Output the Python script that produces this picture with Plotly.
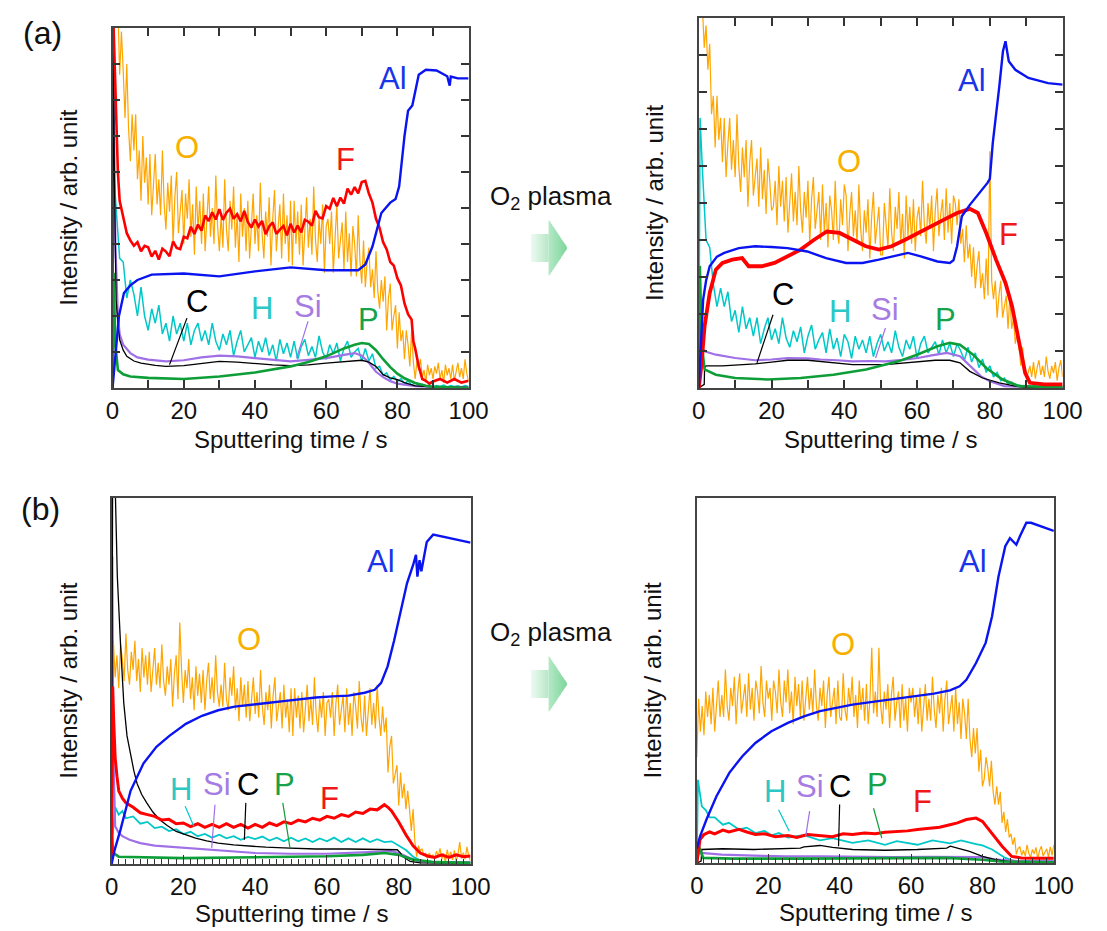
import plotly.graph_objects as go

# The page body has an 8 px default margin, so the figure is drawn 8 px smaller and every
# position below is given in window pixels and converted with PX / PY.
OFF = 8
WIN_W, WIN_H = 1107, 931
FW, FH = WIN_W - OFF, WIN_H - OFF


def PX(x):
    return (x - OFF) / FW


def PY(y):
    return 1 - (y - OFF) / FH


# ---------------- data (sputtering time in s, intensity in arb. units 0-10) ----------------
T_O = [k * 0.5 for k in range(201)]          # O signal sampled every 0.5 s
T_H = [0, 0.35] + list(range(1, 101))        # H signal in (a) sampled every 1 s

# ===== (a) before O2 plasma =====
A1_O = [11.0,
        11.9, 10.3, 10.6, 8.7, 9.9, 8.8, 7.5, 9.0, 7.2, 6.3, 7.6, 6.6, 7.6, 5.8, 6.6, 5.2, 7.0, 5.7, 6.4, 5.1,
        6.5, 4.8, 5.8, 6.5, 5.1, 5.8, 4.8, 6.6, 5.1, 4.4, 5.7, 4.9, 5.9, 4.0, 5.3, 6.0, 4.3, 5.0, 5.5, 4.0,
        5.4, 4.7, 5.8, 4.2, 5.1, 3.7, 5.6, 4.4, 5.2, 4.0, 5.4, 3.8, 4.9, 5.6, 4.2, 5.0, 4.0, 5.9, 4.5, 3.8,
        4.8, 3.9, 5.8, 4.4, 3.8, 5.2, 4.4, 5.6, 3.9, 4.8, 3.5, 5.4, 4.2, 5.0, 3.8, 5.2, 3.6, 4.7, 5.4, 4.0,
        4.8, 3.8, 5.7, 4.3, 3.6, 4.9, 4.2, 5.3, 3.4, 4.7, 5.5, 3.8, 4.5, 5.1, 3.6, 5.4, 4.0, 4.8, 3.5, 5.2,
        3.4, 5.2, 4.0, 4.9, 3.7, 5.1, 3.4, 4.5, 5.3, 3.9, 4.7, 3.7, 5.6, 4.1, 3.5, 4.7, 4.0, 5.1, 3.2, 4.5,
        4.7, 4.0, 4.9, 3.2, 4.4, 5.1, 3.6, 4.1, 4.6, 3.3, 4.9, 3.5, 4.3, 3.1, 4.5, 4.0, 3.1, 4.8, 3.5, 2.9,
        4.1, 2.8, 3.5, 3.9, 2.8, 3.3, 2.5, 3.8, 2.7, 2.2, 3.0, 2.4, 3.1, 1.6, 2.5, 2.9, 1.6, 2.0, 2.3, 1.1,
        2.1, 1.3, 1.6, 0.8, 1.6, 1.2, 0.6, 1.6, 0.7, 0.25, 0.75, 0.5, 0.8, 0.3, 0.5, 0.15, 0.65, 0.35, 0.55, 0.25,
        0.6, 0.4, 0.7, 0.25, 0.5, 0.15, 0.65, 0.35, 0.55, 0.25, 0.65, 0.2, 0.5, 0.7, 0.3, 0.55, 0.25, 0.8, 0.4, 0.2]
A1_H = [0, 6.0,
        5.0, 3.6, 3.5, 2.5, 3.0, 2.6, 2.0, 2.8, 2.0, 1.6,
        2.2, 1.8, 2.3, 1.5, 1.8, 1.3, 2.0, 1.5, 1.8, 1.3,
        1.8, 1.2, 1.6, 1.8, 1.3, 1.6, 1.2, 1.8, 1.3, 1.05,
        1.5, 1.2, 1.6, 0.9, 1.3, 1.6, 1.0, 1.2, 1.4, 0.85,
        1.3, 1.0, 1.4, 0.9, 1.2, 0.75, 1.35, 0.95, 1.25, 0.85,
        1.3, 0.8, 1.15, 1.35, 0.9, 1.15, 0.85, 1.45, 1.0, 0.8,
        1.2, 0.95, 1.25, 0.75, 1.1, 1.3, 0.85, 1.0, 1.1, 0.75,
        1.1, 0.75, 0.95, 0.55, 0.6, 0.35, 0.42, 0.22, 0.32, 0.18,
        0.26, 0.12, 0.2, 0.08, 0.14, 0.05, 0.1, 0.04, 0.08, 0.03,
        0.07, 0.04, 0.08, 0.03, 0.07, 0.04, 0.06, 0.03, 0.07, 0.04]
A1_F = [(0, 11), (0.5, 9.5), (1, 7.8), (1.5, 6.0), (2, 5.2), (3, 4.7), (4, 4.3), (5, 4.1), (6, 3.95),
        (7, 4.05), (8, 3.8), (9, 3.95), (10, 3.91), (11, 3.65), (12, 3.81), (13, 3.57), (14, 3.87),
        (15, 3.79), (16, 3.66), (17, 4.07), (18, 3.89), (19, 3.86), (20, 4.2), (21, 4.16), (22, 4.48),
        (23, 4.28), (24, 4.54), (25, 4.37), (26, 4.79), (27, 4.64), (28, 4.88), (29, 4.68), (30, 4.97),
        (31, 4.67), (32, 4.87), (33, 4.98), (34, 4.7), (35, 4.83), (36, 4.63), (37, 4.92), (38, 4.61),
        (39, 4.46), (40, 4.68), (41, 4.49), (42, 4.64), (43, 4.27), (44, 4.49), (45, 4.6), (46, 4.28),
        (47, 4.4), (48, 4.5), (49, 4.24), (50, 4.56), (51, 4.32), (52, 4.51), (53, 4.32), (54, 4.67),
        (55, 4.62), (56, 4.51), (57, 4.92), (58, 4.74), (59, 4.71), (60, 5.05), (61, 4.98), (62, 5.28),
        (63, 5.05), (64, 5.29), (65, 5.12), (66, 5.54), (67, 5.37), (68, 5.58), (69, 5.41), (70, 5.72),
        (71, 5.75), (72, 5.4), (73, 5.15), (74, 4.7), (75, 4.45), (76, 4.05), (77, 3.85), (78, 3.5),
        (79, 3.4), (80, 3.05), (81, 2.85), (82, 2.35), (83, 2.05), (84, 1.9), (84.5, 1.3), (85, 1.1),
        (86, 0.6), (87, 0.25), (88, 0.2), (89, 0.12), (90, 0.18), (92, 0.25), (94, 0.15), (96, 0.25),
        (98, 0.15), (100, 0.2)]
A1_SI = [(0, 0), (0.3, 8.3), (0.8, 4.0), (1.5, 2.0), (2, 1.5), (3, 1.2), (5, 0.97), (7, 0.85),
         (10, 0.79), (15, 0.74), (20, 0.77), (25, 0.85), (30, 0.9), (35, 0.88), (40, 0.83),
         (45, 0.78), (50, 0.74), (55, 0.78), (60, 0.83), (65, 0.92), (68, 0.97), (70, 0.9),
         (72, 0.7), (74, 0.45), (76, 0.3), (78, 0.19), (80, 0.12), (85, 0.05), (90, 0.03), (100, 0.02)]
A1_C = [(0, 0), (0.2, 10.8), (0.5, 6.0), (1, 2.45), (1.5, 1.8), (2, 1.34), (3, 1.05), (4, 0.88),
        (6, 0.75), (8, 0.69), (12, 0.63), (15, 0.6), (20, 0.62), (25, 0.68), (30, 0.74), (35, 0.72),
        (40, 0.67), (45, 0.64), (50, 0.62), (55, 0.64), (60, 0.69), (65, 0.74), (70, 0.77), (72, 0.72),
        (74, 0.6), (76, 0.37), (78, 0.28), (80, 0.23), (82, 0.15), (85, 0.06), (90, 0.03), (100, 0.02)]
A1_P = [(0, 0), (0.3, 3.2), (0.8, 1.2), (1.5, 0.5), (3, 0.38), (5, 0.32), (10, 0.28), (20, 0.25),
        (30, 0.32), (40, 0.43), (50, 0.6), (55, 0.72), (60, 0.88), (65, 1.1), (68, 1.2), (70, 1.25),
        (72, 1.22), (74, 1.05), (76, 0.8), (78, 0.58), (80, 0.4), (82, 0.27), (85, 0.14), (88, 0.06),
        (90, 0.03), (100, 0.0)]
A1_AL = [(0, 0), (1, 1.2), (1.8, 2.0), (3.2, 2.64), (5, 2.85), (7, 3.0), (11, 3.15), (20, 3.18),
         (30, 3.1), (40, 3.24), (50, 3.35), (60, 3.27), (69, 3.27), (71, 3.43), (73, 3.93),
         (75.5, 4.86), (78, 5.15), (79.5, 5.25), (80.5, 5.6), (82, 7.0), (83, 7.7), (84.2, 7.85),
         (86, 8.7), (88, 8.84), (91, 8.82), (94, 8.66), (94.7, 8.4), (95, 8.65), (97, 8.6), (100, 8.6)]

# ===== (a) after O2 plasma =====
A2_O = [11.0,
        12.0, 10.3, 9.2, 9.8, 8.6, 9.3, 7.4, 7.9, 6.5, 7.9, 6.7, 7.3, 6.1, 7.3, 5.7, 6.6, 7.3, 5.9, 6.7, 5.7,
        7.4, 6.0, 5.3, 6.5, 5.7, 6.7, 4.9, 6.1, 6.7, 5.2, 5.7, 6.2, 4.9, 6.5, 5.1, 5.9, 4.7, 6.2, 5.6, 4.8,
        4.9, 5.6, 4.4, 6.0, 4.9, 5.6, 4.5, 5.7, 4.2, 5.2, 5.8, 4.5, 5.3, 4.4, 6.0, 4.8, 4.2, 5.3, 4.6, 5.6,
        3.9, 5.1, 5.7, 4.3, 4.8, 5.3, 4.0, 5.5, 4.2, 5.0, 3.8, 5.2, 4.8, 4.0, 5.6, 4.3, 3.9, 5.1, 4.4, 5.5,
        5.2, 3.7, 4.7, 5.3, 4.1, 4.8, 3.9, 5.5, 4.3, 3.7, 4.8, 4.2, 5.1, 3.5, 4.6, 5.3, 3.9, 4.4, 4.9, 3.6,
        3.6, 5.0, 4.5, 3.8, 5.4, 4.2, 3.7, 4.9, 4.3, 5.3, 3.9, 4.7, 3.5, 5.2, 4.1, 4.9, 3.9, 5.1, 3.7, 4.6,
        4.9, 4.1, 5.6, 4.4, 3.9, 5.0, 4.3, 5.2, 3.7, 4.8, 5.4, 4.1, 4.7, 5.1, 4.0, 5.4, 4.2, 5.0, 3.9, 5.2,
        5.0, 4.4, 5.1, 3.9, 4.3, 3.4, 4.4, 3.5, 3.9, 3.0, 3.8, 2.7, 3.3, 3.7, 2.7, 3.1, 2.4, 3.5, 2.5, 6.4,
        2.9, 2.4, 2.9, 1.9, 2.5, 2.9, 1.9, 2.2, 2.5, 1.6, 2.5, 1.6, 1.9, 1.2, 1.5, 1.1, 0.6, 1.1, 0.55, 0.3,
        0.4, 0.6, 0.3, 0.7, 0.25, 0.55, 0.75, 0.35, 0.6, 0.3, 0.85, 0.45, 0.25, 0.6, 0.4, 0.7, 0.2, 0.55, 0.75, 0.3]
A2_H = [0, 7.3,
        5.9, 4.0, 3.8, 2.8, 2.2, 2.7, 2.2, 2.6, 1.8, 2.1,
        1.5, 2.2, 1.6, 1.9, 1.4, 1.9, 1.2, 1.6, 1.9, 1.3,
        1.6, 1.2, 1.9, 1.35, 1.1, 1.55, 1.25, 1.65, 0.95, 1.4,
        1.7, 1.05, 1.3, 1.5, 0.95, 1.6, 1.05, 1.35, 0.85, 1.45,
        1.25, 0.8, 1.4, 1.05, 1.3, 0.95, 1.4, 0.85, 1.2, 1.45,
        1.0, 1.25, 0.95, 1.55, 1.1, 0.85, 1.3, 1.05, 1.4, 0.8,
        1.2, 1.4, 0.95, 1.1, 1.25, 0.9, 1.3, 0.95, 1.2, 0.85,
        1.2, 1.0, 0.75, 1.1, 0.7, 0.95, 0.55, 0.78, 0.42, 0.6,
        0.3, 0.42, 0.2, 0.27, 0.1, 0.16, 0.06, 0.08, 0.04, 0.07,
        0.03, 0.06, 0.04, 0.07, 0.03, 0.06, 0.04, 0.07, 0.03, 0.06]
A2_F = [(0, 0), (0.7, 0.6), (1.6, 1.67), (3, 2.57), (4.7, 3.2), (6.5, 3.38), (9.2, 3.47),
        (11.9, 3.51), (13.7, 3.29), (15.5, 3.3), (17.3, 3.29), (20.8, 3.38), (24.4, 3.56),
        (28, 3.74), (31.6, 4.0), (35.2, 4.23), (38.7, 4.19), (42.3, 4.0), (45.9, 3.83),
        (49.5, 3.74), (53, 3.83), (56.6, 4.0), (60.2, 4.19), (63.8, 4.37), (67.4, 4.55), (71, 4.73),
        (74.5, 4.84), (76.7, 4.73), (79, 4.19), (81.7, 3.47), (84.3, 2.84), (86.1, 2.21),
        (87.9, 1.31), (89.7, 0.41), (91, 0.14), (95, 0.1), (100, 0.1)]
A2_SI = [(0, 0), (0.3, 1.5), (0.8, 1.2), (1.2, 1.04), (2, 0.98), (4.7, 0.9), (10, 0.81),
         (15.5, 0.75), (20, 0.77), (24.4, 0.81), (30, 0.8), (33.4, 0.77), (38, 0.75), (42.3, 0.72),
         (47, 0.73), (51.3, 0.72), (56, 0.76), (60.2, 0.81), (64, 0.88), (68.2, 0.95), (71.8, 0.86),
         (73.5, 0.7), (75.4, 0.5), (77.5, 0.32), (80, 0.18), (84, 0.05), (90, 0.03), (100, 0.02)]
A2_C = [(0, 0), (1.5, 0.1), (1.6, 0.55), (2, 0.6), (6.5, 0.6), (15.5, 0.65), (20, 0.7),
        (24.4, 0.75), (30, 0.75), (33.4, 0.72), (38, 0.67), (42.3, 0.63), (51.3, 0.63), (56, 0.67),
        (60.2, 0.72), (65, 0.75), (69, 0.75), (71.8, 0.68), (74.5, 0.45), (78, 0.27), (82.6, 0.14),
        (87, 0.05), (90, 0.02), (100, 0.02)]
A2_P = [(0, 0), (0.3, 3.3), (0.8, 1.2), (1.6, 0.5), (4.7, 0.36), (10, 0.27), (19, 0.23), (28, 0.27),
        (37, 0.36), (46, 0.5), (54.8, 0.72), (60, 0.9), (65.6, 1.13), (69, 1.22), (71.8, 1.17),
        (75.4, 0.9), (79, 0.54), (83.5, 0.23), (88, 0.05), (100, 0.02)]
A2_AL = [(0, 0), (0.5, 1.0), (1.2, 2.39), (2, 2.9), (3, 3.29), (5, 3.55), (7, 3.65), (11, 3.78),
         (15.5, 3.83), (20, 3.81), (24.4, 3.78), (29.8, 3.69), (35, 3.51), (40.5, 3.38), (45, 3.38),
         (49.5, 3.47), (54, 3.58), (57.5, 3.65), (61, 3.56), (65.6, 3.42), (69, 3.38), (70, 3.45),
         (71, 3.83), (72.3, 4.64), (74.5, 4.95), (77.2, 5.27), (79.4, 5.55), (80, 5.65), (80.8, 6.62),
         (82.6, 8.15), (83.6, 9.1), (84.3, 9.37), (85.2, 8.83), (87, 8.6), (90.6, 8.38), (96, 8.24),
         (100, 8.2)]

# ===== (b) before O2 plasma =====
B1_O = [5.4,
        6.1, 5.1, 5.7, 4.8, 6.0, 5.6, 5.0, 6.3, 5.3, 4.9, 5.8, 5.3, 6.1, 5.0, 5.6, 4.7, 5.9, 5.1, 5.7, 4.9,
        5.8, 4.7, 5.4, 5.9, 4.9, 5.5, 4.8, 6.0, 5.0, 4.6, 5.4, 4.9, 5.6, 4.3, 5.2, 5.7, 4.5, 6.6, 5.3, 4.4,
        5.3, 4.8, 5.6, 4.5, 5.1, 4.2, 5.4, 4.6, 5.2, 4.4, 5.3, 4.2, 5.0, 5.5, 4.5, 5.1, 4.4, 5.7, 4.7, 4.3,
        4.9, 4.3, 5.5, 4.5, 4.2, 5.1, 4.6, 5.4, 4.2, 4.8, 3.9, 5.1, 4.3, 4.9, 4.0, 5.0, 3.9, 4.6, 5.1, 4.1,
        4.7, 4.0, 5.3, 4.3, 3.8, 4.7, 4.2, 4.9, 3.7, 4.6, 5.1, 3.9, 4.4, 4.7, 3.7, 4.9, 4.0, 4.5, 3.6, 4.8,
        3.5, 4.8, 4.0, 4.6, 3.7, 4.7, 3.6, 4.3, 4.9, 3.9, 4.5, 3.8, 5.1, 4.1, 3.6, 4.5, 4.0, 4.7, 3.5, 4.4,
        4.5, 4.0, 4.7, 3.5, 4.4, 4.9, 3.8, 4.2, 4.6, 3.6, 4.8, 3.8, 4.4, 3.5, 4.7, 4.3, 3.7, 5.0, 4.0, 3.6,
        4.6, 3.5, 4.2, 4.8, 3.8, 4.4, 3.7, 4.9, 4.0, 3.5, 4.3, 3.6, 4.0, 2.5, 3.2, 3.5, 2.2, 2.5, 2.7, 1.6,
        2.5, 1.8, 2.2, 1.5, 2.0, 1.5, 0.9, 1.5, 0.6, 0.2, 0.5, 0.36, 0.42, 0.24, 0.29, 0.15, 0.3, 0.19, 0.25, 0.13,
        0.35, 0.21, 0.43, 0.13, 0.29, 0.05, 0.39, 0.17, 0.33, 0.11, 0.37, 0.07, 0.27, 0.6, 0.15, 0.31, 0.13, 0.47, 0.21, 0.09]
B1_F = [(0, 0), (0.3, 4.85), (0.6, 3.9), (1, 2.9), (1.5, 2.4), (2, 2.0), (3, 1.8), (4, 1.67),
        (6, 1.55), (8, 1.4), (10, 1.35), (12, 1.3), (14, 1.2), (16, 1.22), (18, 1.1), (20, 1.12),
        (22, 1.02), (24, 1.1), (26, 1.0), (28, 1.08), (30, 1.0), (32, 1.1), (34, 1.0), (36, 1.08),
        (38, 0.98), (40, 1.08), (42, 1.0), (44, 1.12), (46, 1.05), (48, 1.15), (50, 1.1), (52, 1.2),
        (54, 1.15), (56, 1.25), (58, 1.2), (60, 1.3), (62, 1.25), (64, 1.35), (66, 1.3), (68, 1.42),
        (70, 1.38), (72, 1.5), (74, 1.48), (76, 1.62), (77, 1.55), (78, 1.45), (80, 1.15), (82, 0.8),
        (84, 0.5), (86, 0.3), (88, 0.22), (90, 0.18), (92, 0.25), (94, 0.18), (96, 0.25), (98, 0.2),
        (100, 0.22)]
B1_H = [(0, 0), (0.3, 0.75), (1, 1.55), (2, 1.35), (3, 1.45), (4, 1.25), (6, 1.3), (8, 1.1),
        (10, 1.15), (12, 0.98), (14, 1.02), (16, 0.9), (18, 0.95), (20, 0.82), (22, 0.88), (24, 0.76),
        (26, 0.82), (28, 0.72), (30, 0.8), (32, 0.7), (34, 0.76), (36, 0.66), (38, 0.74), (40, 0.68),
        (42, 0.75), (44, 0.64), (46, 0.72), (48, 0.62), (50, 0.72), (52, 0.62), (54, 0.7), (56, 0.6),
        (58, 0.7), (60, 0.62), (62, 0.72), (64, 0.6), (66, 0.7), (68, 0.6), (70, 0.7), (72, 0.6),
        (74, 0.68), (76, 0.6), (78, 0.62), (80, 0.5), (82, 0.38), (84, 0.2), (86, 0.1), (90, 0.05),
        (100, 0.05)]
B1_SI = [(0, 0), (0.2, 8.4), (0.5, 3.0), (1, 1.03), (2, 0.85), (3, 0.76), (5, 0.66), (8, 0.57),
         (12, 0.5), (15, 0.48), (20, 0.44), (30, 0.37), (40, 0.3), (50, 0.28), (60, 0.28), (70, 0.32),
         (75, 0.34), (78, 0.35), (80, 0.3), (82, 0.21), (84, 0.12), (86, 0.07), (90, 0.05), (100, 0.05)]
B1_C = [(0, 0), (0.3, 10.8), (0.9, 10.8), (1.6, 7.86), (2.5, 6.0), (3.4, 4.4), (4.3, 3.5),
        (5.3, 2.94), (6.2, 2.55), (7.1, 2.2), (8.4, 1.9), (9.8, 1.67), (11.5, 1.42), (13.4, 1.21),
        (15.5, 1.05), (18, 0.89), (20.5, 0.8), (23.4, 0.71), (26.5, 0.63), (29.7, 0.57), (34, 0.52),
        (38.8, 0.48), (43, 0.46), (47.9, 0.44), (56.9, 0.41), (66, 0.41), (75.1, 0.41), (79.6, 0.39),
        (80.5, 0.3), (81, 0.21), (83.2, 0.07), (86, 0.03), (100, 0.02)]
B1_P = [(0, 0), (0.1, 0.75), (0.5, 0.3), (2, 0.2), (20, 0.16), (40, 0.19), (60, 0.21), (70, 0.25),
        (76, 0.3), (80, 0.25), (84, 0.12), (90, 0.05), (100, 0.03)]
B1_AL = [(0, 0), (0.9, 0.4), (2.5, 0.94), (5.3, 2.0), (8.9, 2.75), (12.5, 3.2), (16.1, 3.5),
         (20.7, 3.83), (25.2, 4.05), (29.7, 4.2), (34.3, 4.3), (38.8, 4.34), (43.3, 4.4), (47.9, 4.45),
         (52.4, 4.5), (56.9, 4.55), (61.5, 4.58), (66, 4.6), (70.5, 4.68), (73.3, 4.76), (75.1, 4.95),
         (76.9, 5.4), (78.7, 6.1), (80.5, 6.9), (82.3, 7.67), (84.1, 8.2), (84.8, 8.45), (85.2, 7.85),
         (85.8, 8.3), (86.3, 8.0), (87.8, 8.8), (89.6, 9.0), (93.2, 8.93), (97.7, 8.83), (100, 8.78)]

# ===== (b) after O2 plasma =====
B2_O = [2.9,
        4.5, 3.6, 4.3, 3.5, 4.7, 4.0, 4.6, 3.8, 4.8, 3.6, 4.4, 5.0, 4.0, 4.6, 4.0, 5.3, 4.3, 3.9, 4.8, 4.3,
        5.1, 3.8, 4.7, 5.2, 4.1, 4.6, 4.9, 4.0, 5.2, 4.2, 4.8, 3.9, 5.0, 4.7, 4.1, 5.4, 4.4, 4.0, 5.0, 4.5,
        4.8, 3.9, 5.0, 4.7, 4.1, 5.3, 4.4, 4.0, 5.0, 4.4, 5.3, 4.1, 4.7, 3.8, 5.1, 4.3, 4.9, 4.0, 5.0, 3.9,
        4.6, 5.1, 4.2, 4.8, 4.1, 5.3, 4.3, 3.9, 4.8, 4.3, 5.0, 3.7, 4.6, 5.1, 4.0, 4.4, 4.8, 3.8, 5.0, 4.0,
        3.9, 5.2, 4.2, 3.9, 4.8, 4.3, 5.1, 4.0, 4.6, 3.7, 5.0, 4.2, 4.8, 3.9, 4.9, 3.8, 4.5, 5.9, 4.1, 4.7,
        4.0, 5.9, 4.3, 3.8, 4.7, 4.2, 4.9, 3.7, 4.6, 5.1, 3.9, 4.4, 4.7, 3.7, 4.9, 3.9, 4.5, 3.6, 4.8, 4.4,
        4.8, 4.0, 4.6, 3.8, 4.8, 3.6, 4.4, 4.9, 3.9, 4.5, 3.9, 5.1, 4.2, 3.7, 4.6, 4.1, 4.8, 3.6, 4.5, 5.0,
        3.8, 4.3, 4.6, 3.6, 4.8, 3.8, 4.4, 3.4, 4.5, 4.1, 3.4, 4.5, 3.4, 2.9, 3.7, 3.0, 3.7, 2.5, 3.1, 2.1,
        2.3, 2.9, 2.6, 2.1, 2.8, 1.95, 1.6, 2.1, 1.6, 1.95, 1.1, 1.4, 0.85, 1.2, 0.7, 0.8, 0.5, 0.7, 0.24, 0.4,
        0.44, 0.21, 0.35, 0.19, 0.5, 0.26, 0.16, 0.37, 0.25, 0.43, 0.12, 0.34, 0.46, 0.19, 0.3, 0.39, 0.16, 0.44, 0.21, 0.5]
B2_F = [(0, 0), (0.9, 0.64), (2, 0.78), (3.6, 0.85), (5, 0.8), (7.3, 0.9), (9, 0.85), (11.8, 0.92),
        (14, 0.85), (16.4, 0.78), (19, 0.8), (22, 0.72), (25.5, 0.75), (28, 0.7), (31, 0.78),
        (34.5, 0.75), (38, 0.72), (41, 0.8), (43.6, 0.78), (47, 0.82), (50, 0.8), (52.7, 0.84),
        (56, 0.86), (59, 0.88), (61.8, 0.92), (65, 0.95), (68, 0.98), (70.9, 1.05), (73, 1.1),
        (75.5, 1.19), (78.2, 1.23), (80, 1.14), (82.7, 0.82), (85.5, 0.46), (88.2, 0.18),
        (90.9, 0.14), (95, 0.13), (100, 0.13)]
B2_H = [(0, 0), (0.3, 2.28), (1.4, 1.55), (2.5, 1.45), (3.6, 1.25), (5, 1.25), (7.3, 1.05),
        (9, 1.1), (11.8, 0.92), (14, 0.97), (16.4, 0.82), (19, 0.88), (20.9, 0.76), (23, 0.82),
        (25.5, 0.7), (30, 0.76), (34.5, 0.62), (38, 0.68), (43.6, 0.55), (48, 0.62), (52.7, 0.5),
        (56, 0.6), (61.8, 0.5), (66, 0.62), (70.9, 0.54), (74, 0.62), (78.2, 0.52), (80, 0.48),
        (82.7, 0.37), (86.4, 0.14), (89, 0.05), (100, 0.05)]
B2_SI = [(0, 0), (0.5, 0.27), (2, 0.27), (7, 0.23), (16, 0.2), (25, 0.18), (35, 0.18), (45, 0.16),
         (55, 0.16), (65, 0.17), (75, 0.17), (80, 0.16), (84, 0.09), (90, 0.05), (100, 0.05)]
B2_C = [(0, 0), (1.2, 0.05), (1.4, 0.37), (7.3, 0.39), (16, 0.37), (25, 0.39), (29, 0.41),
        (30, 0.44), (34.5, 0.48), (38, 0.43), (43.6, 0.37), (52.7, 0.35), (61.8, 0.37), (70, 0.41),
        (71, 0.46), (73, 0.41), (76.4, 0.32), (80, 0.18), (83.6, 0.09), (89, 0.02), (100, 0.02)]
B2_P = [(0, 0), (0.2, 0.55), (1.8, 0.14), (10, 0.12), (30, 0.12), (50, 0.13), (60, 0.14), (70, 0.14),
        (80, 0.09), (85, 0.04), (100, 0.02)]
B2_AL = [(0, 0.4), (0.9, 0.73), (2.7, 1.19), (5.5, 1.83), (9.1, 2.47), (12.7, 2.92), (16.4, 3.29),
         (20.9, 3.61), (25.5, 3.84), (30, 4.02), (34.5, 4.16), (39.1, 4.25), (43.6, 4.34), (48.2, 4.4),
         (52.7, 4.46), (57.3, 4.52), (61.8, 4.58), (66.4, 4.64), (70.9, 4.73), (73.6, 4.84),
         (75.5, 5.02), (78.2, 5.48), (80.9, 6.03), (82.7, 6.76), (84.5, 7.85), (86.4, 8.68),
         (87.7, 8.9), (88.6, 8.8), (89.5, 8.72), (90.5, 8.95), (92.3, 9.32), (93.6, 9.32),
         (96.4, 9.22), (100, 9.1)]

X_TITLE = "Sputtering time / s"
Y_TITLE = "Intensity / arb. unit"

# ---------------- styling ----------------
FONT = "Liberation Sans, Arial, sans-serif"
TXT = "#111111"
LINE_COL = {"O": "#FFA500", "H": "#00C8C8", "Si": "#A070E6", "C": "#000000",
            "P": "#0E9E38", "F": "#FF0000", "Al": "#0A14F0"}
LABEL_COL = {"O": "#F8B000", "H": "#2CC8C6", "Si": "#A67CE2", "C": "#000000",
             "P": "#17A34A", "F": "#F01818", "Al": "#1A35E8"}

# panel boxes in window pixels: (left, right, top, bottom)
BOX = {1: (108, 473, 28, 388), 2: (709, 1082, 18, 388),
       3: (107, 475, 498, 864), 4: (707, 1073, 498, 863)}

fig = go.Figure()


def ax_name(i, kind):
    return kind if i == 1 else f"{kind}{i}"


def add_series(i, name, xs, ys, width):
    fig.add_trace(go.Scatter(
        x=xs, y=ys, mode="lines", name=name, showlegend=False,
        line=dict(color=LINE_COL[name], width=width),
        xaxis=ax_name(i, "x"), yaxis=ax_name(i, "y")))


def add_pairs(i, name, pairs, width):
    add_series(i, name, [p[0] for p in pairs], [p[1] for p in pairs], width)


panels = {
    1: dict(O=A1_O, F=A1_F, H=A1_H, Si=A1_SI, C=A1_C, P=A1_P, Al=A1_AL),
    2: dict(O=A2_O, F=A2_F, H=A2_H, Si=A2_SI, C=A2_C, P=A2_P, Al=A2_AL),
    3: dict(O=B1_O, F=B1_F, H=B1_H, Si=B1_SI, C=B1_C, P=B1_P, Al=B1_AL),
    4: dict(O=B2_O, F=B2_F, H=B2_H, Si=B2_SI, C=B2_C, P=B2_P, Al=B2_AL),
}
F_WIDTH = {1: 2.6, 2: 3.8, 3: 3.0, 4: 3.0}

for i, d in panels.items():
    add_series(i, "O", T_O, d["O"], 1.2)
    if isinstance(d["H"][0], tuple):
        add_pairs(i, "H", d["H"], 1.8)
    else:
        add_series(i, "H", T_H, d["H"], 1.5)
    add_pairs(i, "Si", d["Si"], 2.2)
    add_pairs(i, "C", d["C"], 1.3)
    add_pairs(i, "P", d["P"], 2.6)
    add_pairs(i, "F", d["F"], F_WIDTH[i])
    add_pairs(i, "Al", d["Al"], 2.4)

layout = dict(width=FW, height=FH, margin=dict(l=0, r=0, t=0, b=0),
              paper_bgcolor="white", plot_bgcolor="white",
              font=dict(family=FONT, color=TXT), showlegend=False)

for i, (l, r, t, b) in BOX.items():
    top_panel = i in (1, 2)
    xa = dict(domain=[PX(l), PX(r)], range=[0, 100], anchor=ax_name(i, "y"),
              showgrid=False, zeroline=False, showline=True, linecolor="#444444", linewidth=1.5,
              tickmode="linear", tick0=0, dtick=20,
              tickfont=dict(size=24, family=FONT, color=TXT),
              ticks="inside", ticklen=8 if top_panel else 9, tickwidth=2 if top_panel else 1.2,
              tickcolor="#333333", mirror="ticks" if top_panel else True, fixedrange=True)
    if top_panel:
        xa["minor"] = dict(dtick=10, tick0=0, ticks="inside", ticklen=8, tickwidth=2, tickcolor="#333333")
    else:
        xa["minor"] = dict(dtick=2, tick0=0, ticks="inside", ticklen=5, tickwidth=1, tickcolor="#333333")
    ya = dict(domain=[PY(b), PY(t)], range=[0, 10], anchor=ax_name(i, "x"),
              showgrid=False, zeroline=False, showline=True, linecolor="#444444", linewidth=1.5,
              mirror="ticks" if top_panel else True, showticklabels=False,
              ticks="inside" if top_panel else "", tickmode="linear", tick0=0, dtick=1,
              ticklen=8, tickwidth=2, tickcolor="#333333", fixedrange=True)
    layout[ax_name(i, "xaxis")] = xa
    layout[ax_name(i, "yaxis")] = ya

fig.update_layout(**layout)


def note(px, py, text, size, color=TXT, angle=0):
    fig.add_annotation(x=PX(px), y=PY(py), xref="paper", yref="paper", xanchor="center",
                       yanchor="middle", text=text, showarrow=False, textangle=angle,
                       font=dict(size=size, family=FONT, color=color))


# axis titles
for i, (l, r, t, b) in BOX.items():
    top_panel = i in (1, 2)
    note((l + r) / 2, b + (51 if top_panel else 49), X_TITLE, 24)
    note(l - 45, (t + b) / 2, Y_TITLE, 24, angle=-90)


# ---- O2 plasma arrows: gradient built from thin vertical strips ----
def hexmix(c0, c1, f):
    a = [int(c0[k:k + 2], 16) for k in (1, 3, 5)]
    b = [int(c1[k:k + 2], 16) for k in (1, 3, 5)]
    return "#" + "".join(f"{round(a[k] + (b[k] - a[k]) * f):02x}" for k in range(3))


def arrow_edges(x, dy):
    x1, x2 = 555, 574
    st, sb, ht, hb, tip = 234 + dy, 262 + dy, 220 + dy, 276 + dy, 248 + dy
    if x < x1:
        return st, sb
    f = (x - x1) / (x2 - x1)
    return ht + (tip - ht) * f, hb + (tip - hb) * f


for dy in (0, 436):
    xs = [537 + k * 1.5 for k in range(0, 12)] + [555] + [555 + k * 1.5 for k in range(1, 13)] + [574]
    for k in range(len(xs) - 1):
        xa_, xb_ = xs[k], xs[k + 1]
        if xb_ <= 555:
            ta, ba = arrow_edges(540, dy)
            tb, bb = ta, ba
            xb2 = xb_ + (0.6 if xb_ < 555 else 0)
        else:
            ta, ba = arrow_edges(xa_, dy)
            tb, bb = arrow_edges(xb_, dy)
            xb2 = min(xb_ + 0.6, 574)
        path = (f"M {PX(xa_)},{PY(ta)} L {PX(xb2)},{PY(tb)} "
                f"L {PX(xb2)},{PY(bb)} L {PX(xa_)},{PY(ba)} Z")
        col = hexmix("#ECF9F0", "#78D597", (xa_ - 537) / 37)
        fig.add_shape(type="path", path=path, xref="paper", yref="paper",
                      fillcolor=col, line=dict(width=0), layer="above")
    note(557, 197 + dy, "O<sub>2</sub> plasma", 26)

# panel letters
note(36, 33, "(a)", 32)
note(34, 509, "(b)", 32)

# element labels (x, y in data units)
LABELS = {
    1: dict(O=(21, 6.67), F=(65.4, 6.34), Al=(78.7, 8.6), C=(23.8, 2.4), H=(42, 2.2), Si=(55, 2.27), P=(71.8, 1.9)),
    2: dict(O=(41.4, 6.13), Al=(75, 8.3), F=(85.2, 4.14), C=(23.1, 2.52), H=(38.7, 2.07), Si=(51.3, 2.12), P=(67.8, 1.85)),
    3: dict(O=(38.4, 6.13), Al=(75, 8.27), H=(19.3, 2.03), Si=(29.3, 2.17), C=(37.9, 2.17), P=(48.3, 2.17), F=(60.6, 1.8)),
    4: dict(O=(40.9, 6.0), Al=(77.3, 8.26), H=(21.8, 1.96), Si=(31.6, 2.1), C=(40.2, 2.1), P=(50.7, 2.15), F=(63.2, 1.69)),
}
LEADERS = {
    1: [("C", (20.9, 1.94), (16, 0.65)), ("Si", (54.9, 1.85), (51.7, 0.83))],
    2: [("C", (20.4, 1.98), (16, 0.68)), ("Si", (51.3, 1.62), (48.6, 0.81))],
    3: [("H", (20.5, 1.58), (22.9, 1.03)), ("Si", (28.8, 1.62), (27.9, 0.44)),
        ("C", (37.4, 1.67), (37, 0.66)), ("P", (47.7, 1.67), (49.7, 0.44))],
    4: [("H", (22.9, 1.46), (25.9, 0.87)), ("Si", (31.6, 1.42), (30.5, 0.73)),
        ("C", (40, 1.6), (39.7, 0.46)), ("P", (49.5, 1.5), (51.8, 0.68))],
}
for i, labs in LABELS.items():
    for name, (lx, ly) in labs.items():
        fig.add_annotation(x=lx, y=ly, xref=ax_name(i, "x"), yref=ax_name(i, "y"), text=name,
                           xanchor="center", yanchor="middle",
                           showarrow=False, font=dict(size=31, family=FONT, color=LABEL_COL[name]))
    for name, (x0, y0), (x1, y1) in LEADERS[i]:
        fig.add_shape(type="line", x0=x0, y0=y0, x1=x1, y1=y1, xref=ax_name(i, "x"),
                      yref=ax_name(i, "y"), line=dict(color=LINE_COL[name], width=1.2))

fig.write_html("out.html")
